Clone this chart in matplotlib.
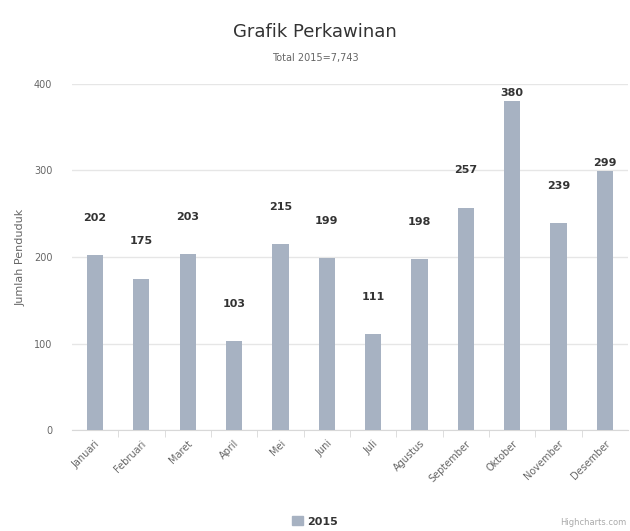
import matplotlib
matplotlib.use('Agg')
import matplotlib.pyplot as plt
from matplotlib.patches import Patch

months = ['Januari', 'Februari', 'Maret', 'April', 'Mei', 'Juni', 'Juli',
          'Agustus', 'September', 'Oktober', 'November', 'Desember']
values = [202, 175, 203, 103, 215, 199, 111, 198, 257, 380, 239, 299]
yticks = [0, 100, 200, 300, 400]

bar_color = '#a7b2c2'
grid_color = '#e6e6e6'
text_color = '#666666'

fig = plt.figure(figsize=(6.3, 5.31), dpi=100)
ax = fig.add_axes([0.114, 0.19, 0.883, 0.652])

x = range(len(months))
ax.bar(x, values, width=0.35, color=bar_color, zorder=3)

# value labels sit well above the bars (pulled down near the top)
for i, v in enumerate(values):
    ly = v + 43 if v + 43 < 330 else v + 10
    ax.text(i, ly, str(v), ha='center', va='center', fontsize=8,
            color='#333333', fontweight='bold', zorder=4)

ax.set_ylim(0, 400)
ax.set_xlim(-0.5, len(months) - 0.5)
ax.set_yticks(yticks)
ax.set_yticklabels([str(t) for t in yticks], fontsize=7, color=text_color)
ax.tick_params(axis='y', length=0, pad=14)
ax.grid(axis='y', color=grid_color, linewidth=1, zorder=0)

ax.set_xticks([i + 0.5 for i in range(len(months) - 1)], minor=True)
ax.set_xticks(list(x))
ax.set_xticklabels(months, rotation=45, ha='right', rotation_mode='anchor',
                   fontsize=7, color=text_color)
ax.tick_params(axis='x', which='major', length=0, pad=6)
ax.tick_params(axis='x', which='minor', length=5, color='#d8d8d8')

for side in ['top', 'right', 'left']:
    ax.spines[side].set_visible(False)
ax.spines['bottom'].set_color('#d8d8d8')

ax.set_ylabel('Jumlah Penduduk', fontsize=8, color=text_color, labelpad=6)

fig.text(0.5, 0.94, 'Grafik Perkawinan', ha='center', va='center',
         fontsize=13, color='#333333')
fig.text(0.5, 0.89, 'Total 2015=7,743', ha='center', va='center',
         fontsize=7, color=text_color)

fig.legend(handles=[Patch(color=bar_color, label='2015')],
           loc='center', bbox_to_anchor=(0.5, 0.018), frameon=False,
           handlelength=1.0, handleheight=0.9, handletextpad=0.4,
           prop={'size': 8, 'weight': 'bold'}, labelcolor='#333333')
fig.text(0.995, 0.008, 'Highcharts.com', ha='right', va='bottom',
         fontsize=6, color='#aaaaaa')

fig.savefig('out.png', dpi=100)
